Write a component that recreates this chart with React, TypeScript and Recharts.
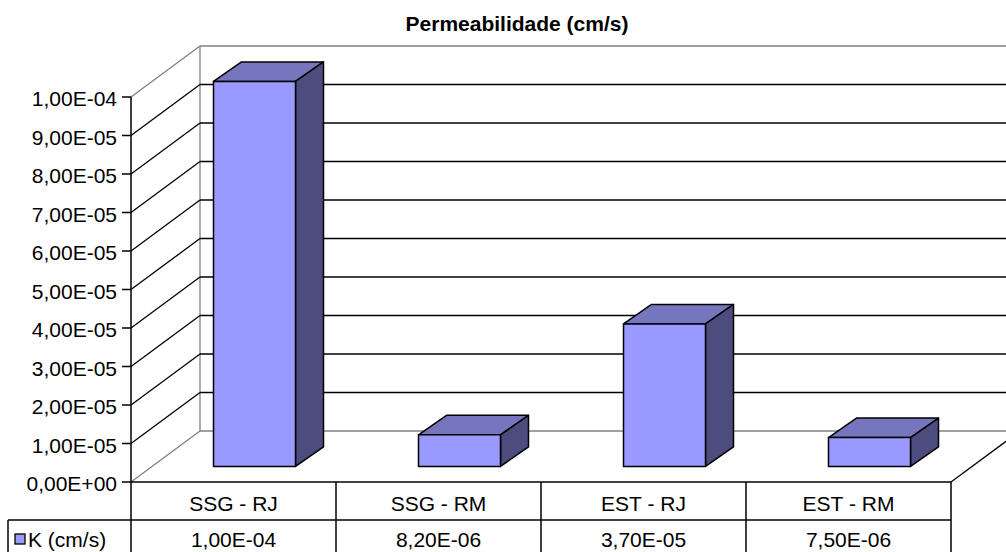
import { BarChart, Bar, XAxis, YAxis, CartesianGrid } from 'recharts';

const chartTitle = 'Permeabilidade (cm/s)';
const seriesName = 'K (cm/s)';
const categories = ['SSG - RJ', 'SSG - RM', 'EST - RJ', 'EST - RM'];
const kValues = [1.0e-4, 8.2e-6, 3.7e-5, 7.5e-6];
const yTicks = [0, 1e-5, 2e-5, 3e-5, 4e-5, 5e-5, 6e-5, 7e-5, 8e-5, 9e-5, 1e-4];

const data = categories.map((name, i) => ({ name, k: kValues[i] }));

// layout of the fake 3d box
const W = 1006;
const H = 552;
const PLOT_LEFT = 131;
const PLOT_TOP = 97;
const PLOT_RIGHT = 951;
const PLOT_BOTTOM = 482;
const WALL_DX = 69;
const WALL_DY = -51;
const BAR_FX = 21;
const BAR_FY = -15.6;
const BAR_DX = 28;
const BAR_DY = -19.5;
const ROW_MID = 520;
const FONT = '"Liberation Sans", Arial, sans-serif';
const FS = 21;

const FRONT = '#9999FF';
const TOP = '#7676BF';
const SIDE = '#4C4C7F';
const GRAY = '#808080';

// 1.00e-4 -> 1,00E-04
function sci(v: number) {
  const [m, e] = v.toExponential(2).split('e');
  const n = parseInt(e, 10);
  return m.replace('.', ',') + 'E' + (n < 0 ? '-' : '+') + String(Math.abs(n)).padStart(2, '0');
}

function gridLine(props: any) {
  const { x1, x2, y1 } = props;
  const edge = Math.abs(y1 - PLOT_TOP) < 1 || Math.abs(y1 - PLOT_BOTTOM) < 1;
  const bottom = Math.abs(y1 - PLOT_BOTTOM) < 1;
  const c = edge ? GRAY : '#000';
  const bx = x1 + WALL_DX;
  const by = y1 + WALL_DY;
  return (
    <g key={`gl-${y1}`}>
      <line x1={x1} y1={y1} x2={bx} y2={by} stroke={c} strokeWidth={1.3} />
      <line x1={bx} y1={by} x2={x2 + WALL_DX} y2={by} stroke={c} strokeWidth={1.3} />
      {bottom && (
        <>
          <line x1={bx} y1={by} x2={bx} y2={PLOT_TOP + WALL_DY} stroke={GRAY} strokeWidth={1.3} />
          <line x1={x2} y1={y1} x2={x2 + WALL_DX} y2={by} stroke="#000" strokeWidth={1.3} />
        </>
      )}
    </g>
  );
}

function Bar3D(props: any) {
  const { x, y, width, height } = props;
  const x0 = x + BAR_FX;
  const y0 = y + BAR_FY;
  const x1 = x0 + width;
  const y1 = y0 + height;
  return (
    <g stroke="#000" strokeWidth={1.5} strokeLinejoin="round">
      <polygon
        points={`${x0},${y0} ${x0 + BAR_DX},${y0 + BAR_DY} ${x1 + BAR_DX},${y0 + BAR_DY} ${x1},${y0}`}
        fill={TOP}
      />
      <polygon
        points={`${x1},${y0} ${x1 + BAR_DX},${y0 + BAR_DY} ${x1 + BAR_DX},${y1 + BAR_DY} ${x1},${y1}`}
        fill={SIDE}
      />
      <rect x={x0} y={y0} width={width} height={height} fill={FRONT} />
    </g>
  );
}

function YTick(props: any) {
  const { y, payload } = props;
  return (
    <text x={PLOT_LEFT - 14} y={y + 9} textAnchor="end" fontFamily={FONT} fontSize={FS} fill="#000">
      {sci(payload.value)}
    </text>
  );
}

function TableCell(props: any) {
  const { x, payload, index } = props;
  const band = (PLOT_RIGHT - PLOT_LEFT) / categories.length;
  const l = x - band / 2;
  const r = x + band / 2;
  const ln = { stroke: '#000', strokeWidth: 1.5 };
  return (
    <g>
      <line x1={l} y1={PLOT_BOTTOM} x2={r} y2={PLOT_BOTTOM} {...ln} />
      <line x1={l} y1={ROW_MID} x2={r} y2={ROW_MID} {...ln} />
      <line x1={r} y1={PLOT_BOTTOM} x2={r} y2={H + 2} {...ln} />
      {index === 0 && (
        <>
          <line x1={l} y1={PLOT_BOTTOM} x2={l} y2={H + 2} {...ln} />
          <line x1={8} y1={ROW_MID} x2={l} y2={ROW_MID} {...ln} />
          <line x1={8} y1={ROW_MID} x2={8} y2={H + 2} {...ln} />
          <rect x={15} y={534} width={10} height={10} fill={FRONT} stroke="#000" strokeWidth={1.3} />
          <text x={28} y={547} fontFamily={FONT} fontSize={FS} fill="#000">
            {seriesName}
          </text>
        </>
      )}
      <text x={x} y={511} textAnchor="middle" fontFamily={FONT} fontSize={FS} fill="#000">
        {payload.value}
      </text>
      <text x={x} y={547} textAnchor="middle" fontFamily={FONT} fontSize={FS} fill="#000">
        {sci(kValues[index])}
      </text>
    </g>
  );
}

export default function App() {
  return (
    <div style={{ position: 'relative', width: W, height: H, background: '#fff' }}>
      <style>{`body{margin:0;background:#fff}`}</style>
      <div
        style={{
          position: 'absolute',
          left: 517 - 200,
          top: 11,
          width: 400,
          textAlign: 'center',
          fontFamily: FONT,
          fontSize: FS,
          fontWeight: 'bold',
          lineHeight: '26px',
        }}
      >
        {chartTitle}
      </div>
      <BarChart
        width={W}
        height={H}
        data={data}
        margin={{ top: PLOT_TOP, right: W - PLOT_RIGHT, bottom: 0, left: 0 }}
        barCategoryGap="30%"
      >
        <CartesianGrid vertical={false} horizontal={gridLine} fill="none" />
        <XAxis
          dataKey="name"
          height={H - PLOT_BOTTOM}
          axisLine={false}
          tickLine={false}
          tick={TableCell}
          interval={0}
        />
        <YAxis
          width={PLOT_LEFT}
          type="number"
          domain={[0, 1e-4]}
          ticks={yTicks}
          interval={0}
          tick={YTick}
          tickSize={9}
          axisLine={{ stroke: '#000', strokeWidth: 1.5 }}
          tickLine={{ stroke: '#000', strokeWidth: 1.5 }}
        />
        <Bar dataKey="k" name={seriesName} shape={Bar3D} isAnimationActive={false} />
      </BarChart>
    </div>
  );
}
